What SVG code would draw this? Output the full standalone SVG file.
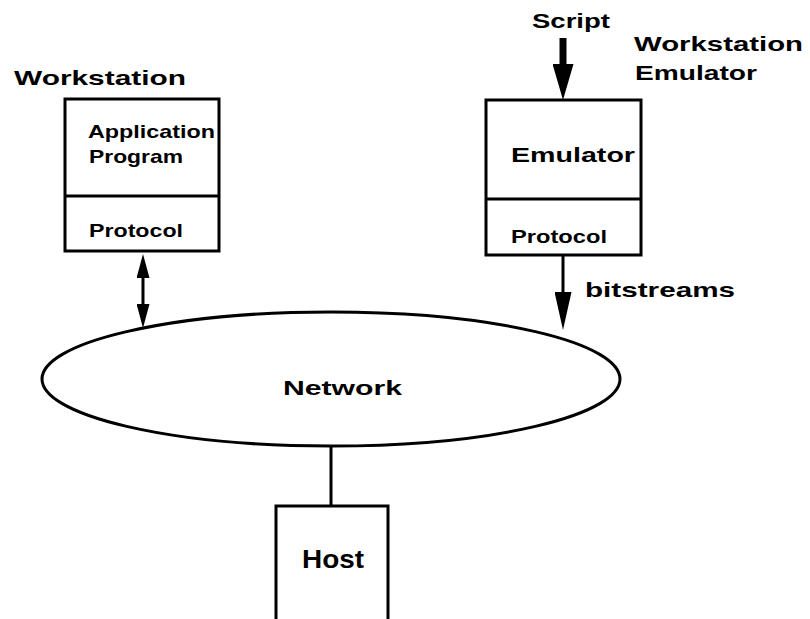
<svg xmlns="http://www.w3.org/2000/svg" width="810" height="619" viewBox="0 0 810 619">
  <style>
    .box { fill: #fff; stroke: #000; stroke-width: 3; }
    .div { stroke: #000; stroke-width: 3; fill: none; }
    .wire { stroke: #000; stroke-width: 3; fill: none; }
    .thick { stroke: #000; stroke-width: 7; fill: none; }
    text { font-family: "Liberation Sans", Arial, sans-serif; font-weight: bold; fill: #000; }
    .lbl { font-size: 21px; }
    .in { font-size: 19px; }
    .host { font-size: 25px; }
  </style>
  <defs>
    <marker id="head-sm" viewBox="0 0 24 13" refX="0" refY="6.5" markerWidth="24" markerHeight="13" markerUnits="userSpaceOnUse" orient="auto-start-reverse">
      <path d="M0,0 L24,6.5 L0,13 z" fill="#000"/>
    </marker>
    <marker id="head-md" viewBox="0 0 38 17" refX="0" refY="8.5" markerWidth="38" markerHeight="17" markerUnits="userSpaceOnUse" orient="auto">
      <path d="M0,0 L38,8.5 L0,17 z" fill="#000"/>
    </marker>
    <marker id="head-lg" viewBox="0 0 36 21" refX="0" refY="10.5" markerWidth="36" markerHeight="21" markerUnits="userSpaceOnUse" orient="auto">
      <path d="M0,0 L36,10.5 L0,21 z" fill="#000"/>
    </marker>
  </defs>

  <rect width="810" height="619" fill="#fff"/>

  <!-- connectors -->
  <g id="connectors">
    <line class="wire" x1="143" y1="278" x2="143" y2="304" marker-start="url(#head-sm)" marker-end="url(#head-sm)"/>
    <line class="thick" x1="563" y1="38" x2="563" y2="64" marker-end="url(#head-lg)"/>
    <line class="wire" x1="563" y1="255" x2="563" y2="292" marker-end="url(#head-md)"/>
    <line class="wire" x1="331" y1="446" x2="331" y2="506"/>
  </g>

  <!-- workstation -->
  <g id="workstation">
    <text class="lbl" x="14" y="85" textLength="172" lengthAdjust="spacingAndGlyphs">Workstation</text>
    <rect class="box" x="65" y="99" width="154" height="152"/>
    <line class="div" x1="65" y1="196" x2="219" y2="196"/>
    <text class="in" x="88" y="138" textLength="127" lengthAdjust="spacingAndGlyphs">Application</text>
    <text class="in" x="89" y="163" textLength="94" lengthAdjust="spacingAndGlyphs">Program</text>
    <text class="in" x="89" y="237" textLength="94" lengthAdjust="spacingAndGlyphs">Protocol</text>
  </g>

  <!-- workstation emulator -->
  <g id="emulator">
    <text class="lbl" x="532" y="28" textLength="78" lengthAdjust="spacingAndGlyphs">Script</text>
    <text class="lbl" x="634" y="51" textLength="169" lengthAdjust="spacingAndGlyphs">Workstation</text>
    <text class="lbl" x="635" y="80" textLength="122" lengthAdjust="spacingAndGlyphs">Emulator</text>
    <rect class="box" x="486" y="100" width="155" height="155"/>
    <line class="div" x1="486" y1="199" x2="641" y2="199"/>
    <text class="lbl" x="511" y="162" textLength="124" lengthAdjust="spacingAndGlyphs">Emulator</text>
    <text class="in" x="511" y="243" textLength="96" lengthAdjust="spacingAndGlyphs">Protocol</text>
    <text class="lbl" x="585" y="297" textLength="150" lengthAdjust="spacingAndGlyphs">bitstreams</text>
  </g>

  <!-- network -->
  <g id="network">
    <ellipse class="wire" cx="331" cy="379" rx="289" ry="67" fill="#fff"/>
    <text class="lbl" x="283" y="395" textLength="119" lengthAdjust="spacingAndGlyphs">Network</text>
  </g>

  <!-- host -->
  <g id="host">
    <path class="wire" d="M276,625 L276,506 L388,506 L388,625"/>
    <text class="host" x="302" y="568" textLength="62" lengthAdjust="spacingAndGlyphs">Host</text>
  </g>
</svg>
